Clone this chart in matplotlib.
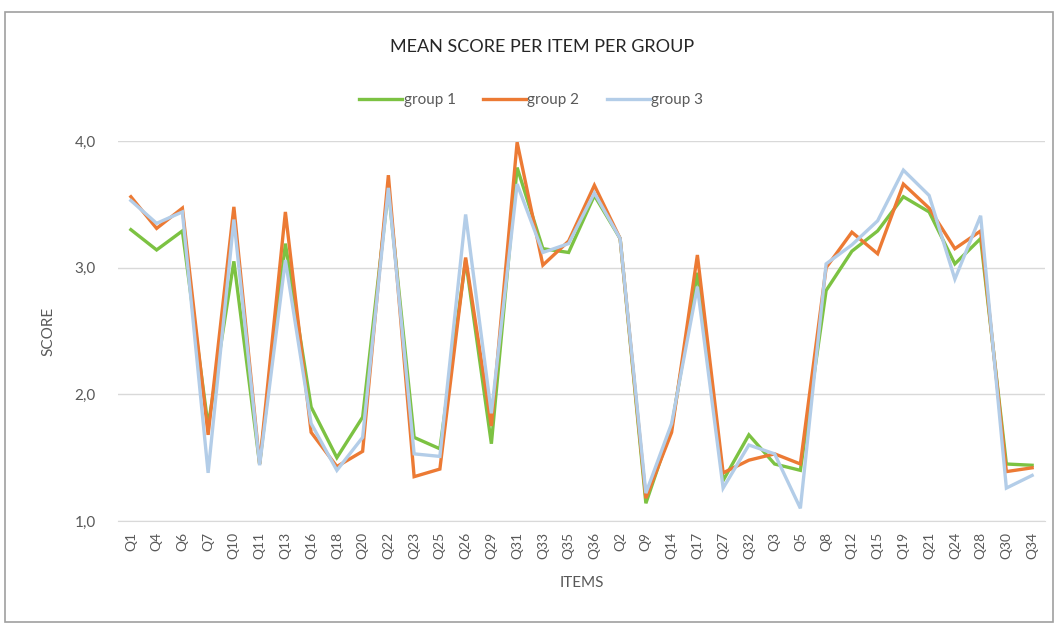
import matplotlib
matplotlib.use("Agg")
import matplotlib.pyplot as plt
from matplotlib.patches import Rectangle
from matplotlib.ticker import FuncFormatter

items = ["Q1", "Q4", "Q6", "Q7", "Q10", "Q11", "Q13", "Q16", "Q18", "Q20", "Q22", "Q23",
         "Q25", "Q26", "Q29", "Q31", "Q33", "Q35", "Q36", "Q2", "Q9", "Q14", "Q17", "Q27",
         "Q32", "Q3", "Q5", "Q8", "Q12", "Q15", "Q19", "Q21", "Q24", "Q28", "Q30", "Q34"]

group1 = [3.30, 3.14, 3.29, 1.75, 3.05, 1.45, 3.19, 1.90, 1.50, 1.82, 3.62, 1.66,
          1.57, 3.06, 1.61, 3.79, 3.15, 3.12, 3.57, 3.23, 1.14, 1.74, 2.96, 1.32,
          1.68, 1.45, 1.40, 2.82, 3.13, 3.29, 3.56, 3.44, 3.03, 3.23, 1.45, 1.44]
group2 = [3.56, 3.31, 3.47, 1.68, 3.48, 1.45, 3.44, 1.70, 1.43, 1.55, 3.73, 1.35,
          1.41, 3.08, 1.75, 3.99, 3.02, 3.21, 3.65, 3.23, 1.18, 1.70, 3.10, 1.38,
          1.48, 1.53, 1.45, 3.00, 3.28, 3.11, 3.66, 3.47, 3.15, 3.29, 1.39, 1.42]
group3 = [3.53, 3.35, 3.44, 1.38, 3.38, 1.44, 3.06, 1.77, 1.40, 1.66, 3.63, 1.53,
          1.51, 3.42, 1.85, 3.66, 3.12, 3.19, 3.59, 3.23, 1.22, 1.77, 2.85, 1.26,
          1.60, 1.53, 1.10, 3.03, 3.18, 3.37, 3.77, 3.57, 2.91, 3.41, 1.26, 1.36]

series = [("group 1", group1, "#7CC242"),
          ("group 2", group2, "#EC7A34"),
          ("group 3", group3, "#B3CDE8")]

plt.rcParams["font.family"] = ["Lato", "DejaVu Sans"]

fig = plt.figure(figsize=(10.56, 6.24), dpi=100)
fig.patches.append(Rectangle((5 / 1056, 0.003), 1048 / 1056, 1 - 12 / 624 - 0.003,
                             transform=fig.transFigure, fill=False,
                             edgecolor="#A0A0A0", linewidth=1.2))

ax = fig.add_axes([118 / 1056, 1 - 521 / 624, 927 / 1056, 380 / 624])
x = list(range(len(items)))
for name, vals, col in series:
    ax.plot(x, vals, color=col, linewidth=2.4, label=name, clip_on=False,
            solid_joinstyle="miter")

ax.set_xlim(-0.5, len(items) - 0.5)
ax.set_ylim(1, 4)
ax.set_yticks([1, 2, 3, 4])
ax.yaxis.set_major_formatter(FuncFormatter(lambda v, p: f"{v:.1f}".replace(".", ",")))
ax.set_xticks(x)
ax.set_xticklabels(items, rotation=90, fontsize=10, color="#595959")
ax.tick_params(axis="y", labelsize=11, colors="#595959", length=0, pad=16)
ax.tick_params(axis="x", length=0, pad=8)
ax.grid(axis="y", color="#D9D9D9", linewidth=1)
ax.set_axisbelow(True)
for s in ["top", "right", "left"]:
    ax.spines[s].set_visible(False)
ax.spines["bottom"].set_color("#D9D9D9")

ax.set_ylabel("SCORE", fontsize=11, color="#595959", labelpad=14)
ax.set_xlabel("ITEMS", fontsize=11, color="#595959", labelpad=12)

fig.text(0.513, 1 - 47 / 624, "MEAN SCORE PER ITEM PER GROUP", ha="center", va="center",
         fontsize=13, color="#262626")
fig.legend(loc="center", bbox_to_anchor=(0.503, 1 - 100 / 624), ncol=3, frameon=False,
           fontsize=11, labelcolor="#595959", handlelength=2.8, handletextpad=0.1,
           columnspacing=1.8)

fig.savefig("out.png", dpi=100, facecolor="white")
